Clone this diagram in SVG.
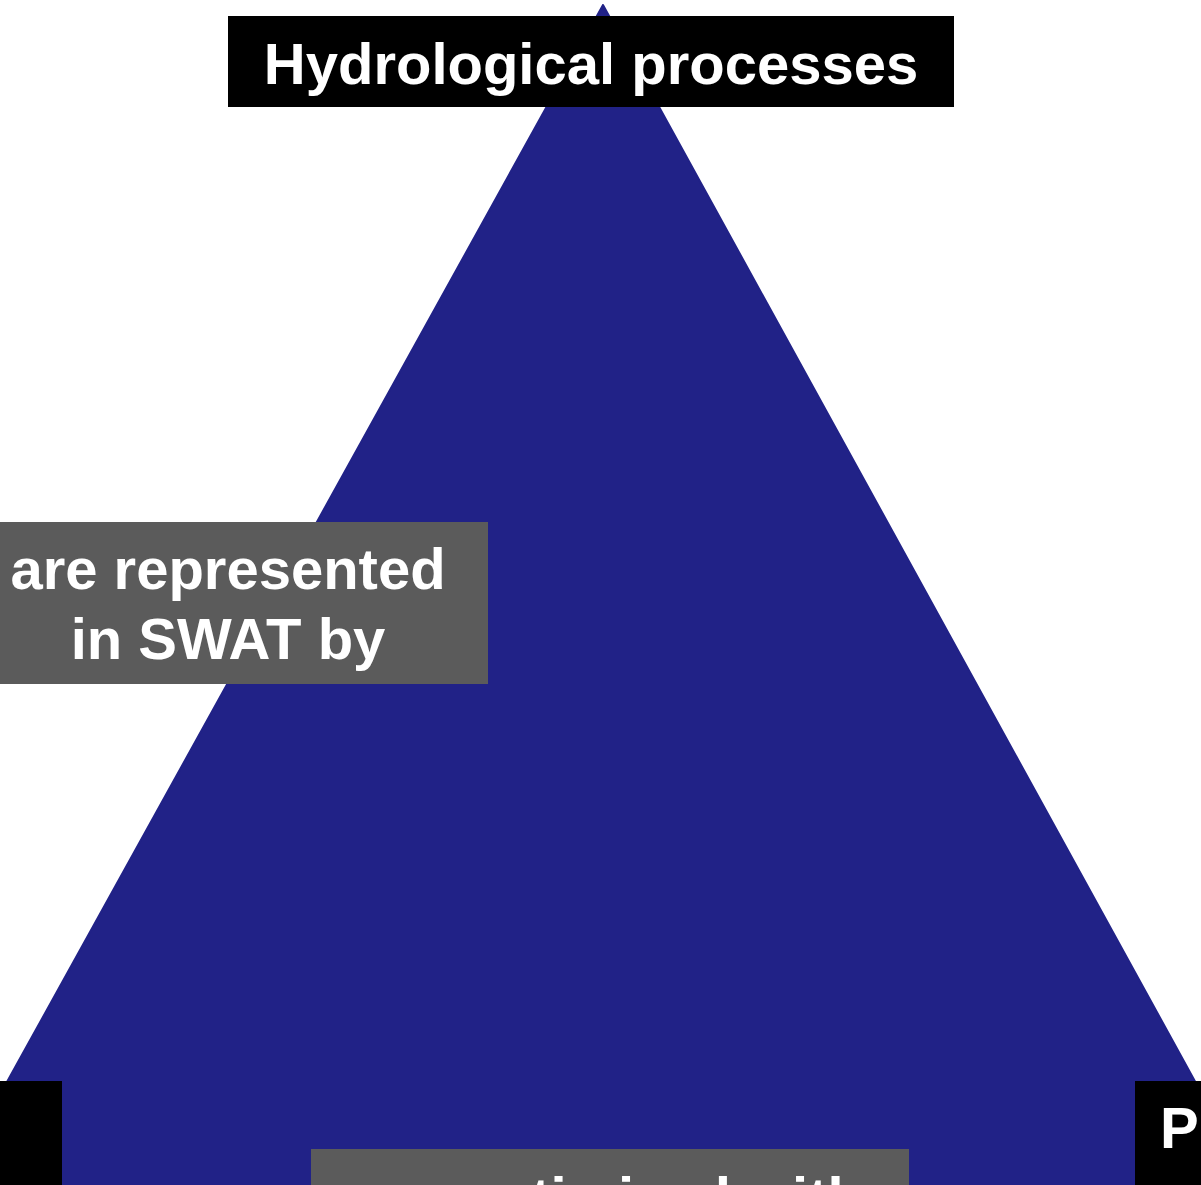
<svg xmlns="http://www.w3.org/2000/svg" width="1201" height="1185" viewBox="0 0 1201 1185">
  <style>
    .lbl { font-family: "Liberation Sans", Arial, sans-serif; font-weight: bold; font-size: 58px; fill: #ffffff; }
    .mid { text-anchor: middle; }
    .dark { fill: #000000; }
    .grey { fill: #5b5b5b; }
  </style>
  <rect width="1201" height="1185" fill="#ffffff"/>
  <!-- connectors: the triangle joining the three concepts -->
  <g id="connectors">
    <polygon points="603,5 -50,1185 1252,1185" fill="#212287" stroke="#212287" stroke-width="2" stroke-linejoin="round"/>
  </g>
  <g id="node-hydro">
    <rect class="dark" x="228" y="16" width="726" height="91"/>
    <text class="lbl mid" x="591" y="84">Hydrological processes</text>
  </g>
  <g id="edge-label-left">
    <rect class="grey" x="0" y="522" width="488" height="162"/>
    <text class="lbl mid" x="228" y="589">are represented</text>
    <text class="lbl mid" x="228" y="659">in SWAT by</text>
  </g>
  <g id="node-bottom-left">
    <rect class="dark" x="0" y="1081" width="62" height="104"/>
  </g>
  <g id="node-bottom-right">
    <rect class="dark" x="1135" y="1081" width="66" height="104"/>
    <text class="lbl" x="1160" y="1148">P</text>
  </g>
  <g id="edge-label-bottom">
    <rect class="grey" x="311" y="1149" width="598" height="60"/>
    <text class="lbl mid" x="610" y="1218">are optimized with</text>
  </g>
</svg>
